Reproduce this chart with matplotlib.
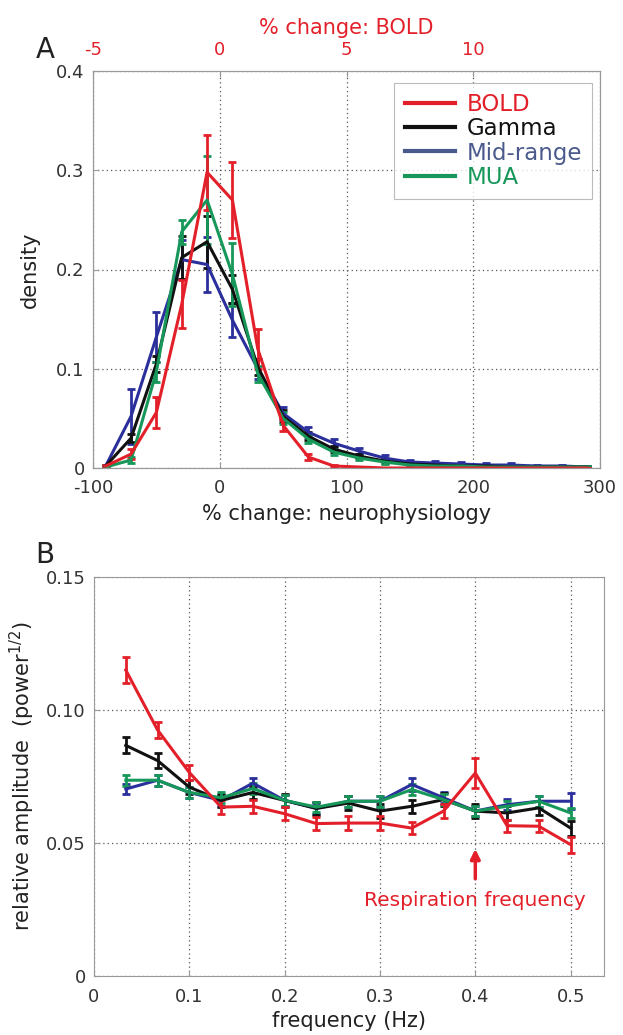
import numpy as np
import matplotlib
matplotlib.use("Agg")
import matplotlib.pyplot as plt

# ---- panel A: histogram of % change (bin centres)
bin_centres = [-90, -70, -50, -30, -10, 10, 30, 50, 70, 90,
               110, 130, 150, 170, 190, 210, 230, 250, 270, 290]

bold_density = [0.002, 0.014, 0.056, 0.165, 0.298, 0.270, 0.120, 0.043, 0.011, 0.002,
                0.001, 0.0, 0.0, 0.0, 0.0, 0.0, 0.0, 0.0, 0.0, 0.0]
bold_density_err = [0.001, 0.005, 0.016, 0.024, 0.038, 0.038, 0.020, 0.006, 0.003, 0.001,
                    0.0, 0.0, 0.0, 0.0, 0.0, 0.0, 0.0, 0.0, 0.0, 0.0]

gamma_density = [0.002, 0.030, 0.105, 0.212, 0.228, 0.180, 0.102, 0.052, 0.032, 0.019,
                 0.012, 0.007, 0.004, 0.003, 0.002, 0.002, 0.001, 0.001, 0.001, 0.001]
gamma_density_err = [0.001, 0.004, 0.008, 0.022, 0.026, 0.014, 0.008, 0.006, 0.004, 0.003,
                     0.002, 0.002, 0.001, 0.001, 0.001, 0.001, 0.001, 0.001, 0.001, 0.001]

mid_density = [0.002, 0.052, 0.132, 0.210, 0.205, 0.149, 0.100, 0.055, 0.036, 0.025,
               0.017, 0.010, 0.006, 0.005, 0.004, 0.003, 0.003, 0.002, 0.002, 0.001]
mid_density_err = [0.001, 0.028, 0.025, 0.020, 0.028, 0.017, 0.010, 0.006, 0.005, 0.004,
                   0.003, 0.003, 0.002, 0.002, 0.002, 0.002, 0.002, 0.001, 0.001, 0.001]

mua_density = [0.001, 0.008, 0.097, 0.238, 0.270, 0.195, 0.095, 0.050, 0.029, 0.016,
               0.010, 0.006, 0.003, 0.002, 0.002, 0.001, 0.001, 0.001, 0.001, 0.001]
mua_density_err = [0.001, 0.003, 0.010, 0.012, 0.044, 0.032, 0.008, 0.006, 0.004, 0.003,
                   0.002, 0.002, 0.001, 0.001, 0.001, 0.001, 0.001, 0.001, 0.001, 0.001]

# ---- panel B: amplitude spectrum
freqs = [1/30, 2/30, 3/30, 4/30, 5/30, 6/30, 7/30, 8/30,
         9/30, 10/30, 11/30, 12/30, 13/30, 14/30, 15/30]

bold_amp = [0.115, 0.0925, 0.0765, 0.0635, 0.0638, 0.061, 0.0573, 0.0575,
            0.0575, 0.0556, 0.062, 0.0763, 0.0565, 0.0563, 0.0494]
bold_amp_err = [0.005, 0.003, 0.003, 0.0025, 0.0025, 0.0025, 0.0025, 0.0025,
                0.0025, 0.0022, 0.0025, 0.0055, 0.0022, 0.0022, 0.003]

gamma_amp = [0.0867, 0.081, 0.071, 0.066, 0.069, 0.066, 0.063, 0.065,
             0.062, 0.0638, 0.0663, 0.062, 0.0613, 0.0632, 0.0556]
gamma_amp_err = [0.003, 0.0028, 0.0025, 0.0025, 0.0025, 0.0025, 0.0025, 0.0025,
                 0.0025, 0.0025, 0.0025, 0.0025, 0.0025, 0.0025, 0.0028]

mid_amp = [0.0703, 0.0736, 0.069, 0.066, 0.0725, 0.066, 0.063, 0.0657,
           0.0657, 0.072, 0.067, 0.062, 0.0644, 0.0657, 0.0657]
mid_amp_err = [0.002, 0.002, 0.002, 0.002, 0.002, 0.002, 0.002, 0.002,
               0.002, 0.0025, 0.002, 0.002, 0.002, 0.002, 0.003]

mua_amp = [0.0736, 0.0736, 0.069, 0.067, 0.0705, 0.066, 0.0635, 0.0657,
           0.0657, 0.0701, 0.0663, 0.062, 0.0638, 0.0657, 0.0613]
mua_amp_err = [0.002, 0.002, 0.002, 0.002, 0.002, 0.002, 0.002, 0.002,
               0.002, 0.002, 0.002, 0.002, 0.002, 0.002, 0.002]

labels = ["BOLD", "Gamma", "Mid-range", "MUA"]
RED = "#e3202a"
BLACK = "#111111"
BLUE = "#2a2f9c"
GREEN = "#17985a"
LEG_BLUE = "#4a5a8c"

plt.rcParams['font.family'] = ['DejaVu Sans']
plt.rcParams['axes.unicode_minus'] = False
plt.rcParams['axes.edgecolor'] = '#999999'
plt.rcParams['xtick.direction'] = 'in'
plt.rcParams['ytick.direction'] = 'in'
plt.rcParams['xtick.color'] = '#999999'
plt.rcParams['ytick.color'] = '#999999'
plt.rcParams['xtick.labelcolor'] = '#333333'
plt.rcParams['ytick.labelcolor'] = '#333333'

fig = plt.figure(figsize=(6.23, 10.35), dpi=100)
W, H = 623.0, 1035.0


def px_axes(left, top, right, bottom):
    return fig.add_axes([left / W, 1 - bottom / H, (right - left) / W, (bottom - top) / H])


def style_grid(ax):
    ax.grid(True, linestyle=(0, (1, 2.5)), color='#555555', linewidth=0.9)
    ax.set_axisbelow(True)


def draw_series(ax, x, y, err, color, label):
    ax.errorbar(x, y, yerr=err, color=color, lw=2.2, elinewidth=2.0,
                capsize=3, capthick=2.0, label=label)


# ---------------- panel A
axA = px_axes(93, 71, 600, 468)
series_A = [
    (mid_density, mid_density_err, BLUE, labels[2]),
    (gamma_density, gamma_density_err, BLACK, labels[1]),
    (mua_density, mua_density_err, GREEN, labels[3]),
    (bold_density, bold_density_err, RED, labels[0]),
]
for y, e, c, lab in series_A:
    draw_series(axA, bin_centres, y, e, c, lab)
axA.set_xlim(-100, 300)
axA.set_ylim(0, 0.4)
axA.set_xticks([-100, 0, 100, 200, 300])
axA.set_yticks([0, 0.1, 0.2, 0.3, 0.4])
axA.set_yticklabels(["0", "0.1", "0.2", "0.3", "0.4"])
axA.tick_params(labelsize=13, length=4)
axA.tick_params(axis='x', pad=8)
axA.tick_params(axis='y', pad=6)
style_grid(axA)
axA.set_xlabel("% change: neurophysiology", fontsize=15, color='#222222', labelpad=5)
axA.set_ylabel("density", fontsize=15, color='#222222', labelpad=12)

top = axA.twiny()
top.set_xlim(-5, 15)
top.set_xticks([-5, 0, 5, 10])
top.tick_params(axis='x', labelsize=13, labelcolor=RED, length=4, direction='in', pad=9)
top.set_xlabel("% change: BOLD", fontsize=15, color=RED, labelpad=5)

handles = [plt.Line2D([], [], color=c, lw=3) for c in [RED, BLACK, LEG_BLUE, GREEN]]
leg = axA.legend(handles, labels, loc='upper right', fontsize=16.5, frameon=True,
                 fancybox=False, edgecolor='#aaaaaa', handlelength=2.2,
                 handletextpad=0.5, labelspacing=0.05, borderpad=0.45,
                 borderaxespad=0.0, bbox_to_anchor=(0.985, 0.97))
leg.get_frame().set_linewidth(0.8)
for txt, c in zip(leg.get_texts(), [RED, BLACK, LEG_BLUE, GREEN]):
    txt.set_color(c)

fig.text(45 / W, 1 - 50 / H, "A", fontsize=20, color='#222222', ha='center', va='center')

# ---------------- panel B
axB = px_axes(94, 577, 604, 976)
series_B = [
    (mid_amp, mid_amp_err, BLUE, labels[2]),
    (gamma_amp, gamma_amp_err, BLACK, labels[1]),
    (mua_amp, mua_amp_err, GREEN, labels[3]),
    (bold_amp, bold_amp_err, RED, labels[0]),
]
for y, e, c, lab in series_B:
    draw_series(axB, freqs, y, e, c, lab)
axB.set_xlim(0, 0.535)
axB.set_ylim(0, 0.15)
axB.set_xticks([0, 0.1, 0.2, 0.3, 0.4, 0.5])
axB.set_xticklabels(["0", "0.1", "0.2", "0.3", "0.4", "0.5"])
axB.set_yticks([0, 0.05, 0.10, 0.15])
axB.set_yticklabels(["0", "0.05", "0.10", "0.15"])
axB.tick_params(labelsize=13, length=4)
axB.tick_params(axis='x', pad=9)
axB.tick_params(axis='y', pad=6)
style_grid(axB)
axB.set_xlabel("frequency (Hz)", fontsize=15, color='#222222', labelpad=3)
axB.set_ylabel("relative amplitude  (power$^{1/2}$)", fontsize=15, color='#222222', labelpad=6)

axB.annotate("", xy=(0.4, 0.0488), xytext=(0.4, 0.0355),
             arrowprops=dict(arrowstyle='-|>', color=RED, lw=2.5, mutation_scale=14))
axB.text(0.4, 0.0285, "Respiration frequency", color=RED, fontsize=14.5,
         ha='center', va='center')

fig.text(45 / W, 1 - 555 / H, "B", fontsize=20, color='#222222', ha='center', va='center')

fig.savefig("out.png", dpi=100)
